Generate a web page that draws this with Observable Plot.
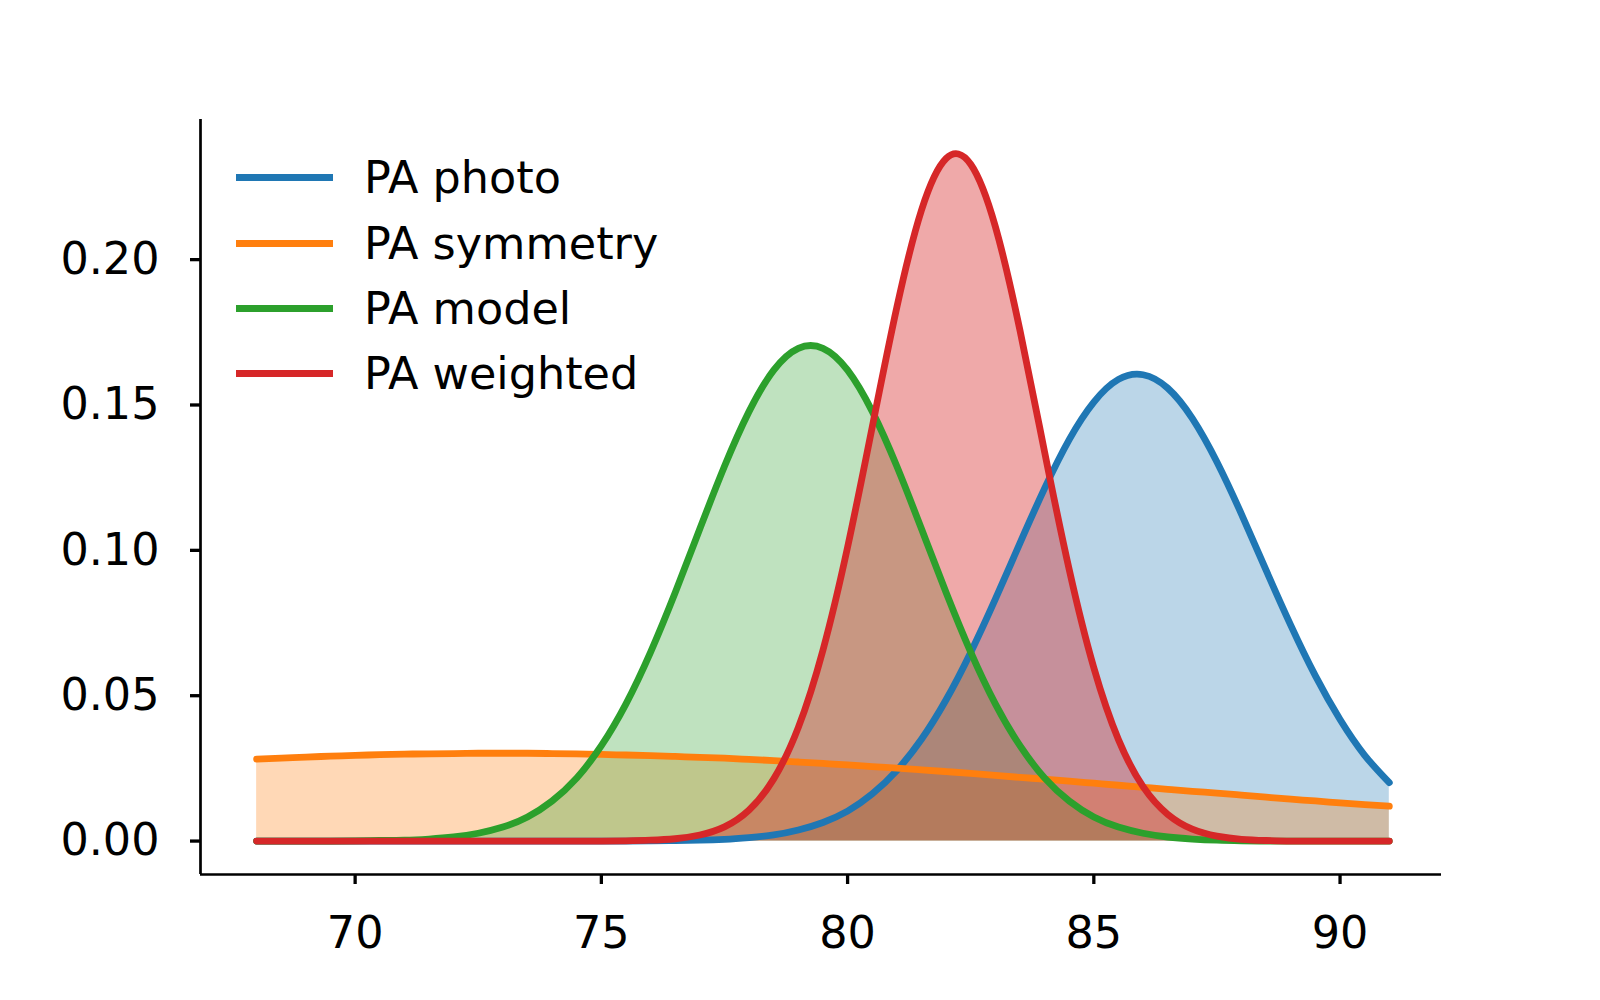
<!DOCTYPE html>
<html>
<head>
<meta charset="utf-8">
<script src="https://cdn.jsdelivr.net/npm/d3@7"></script>
<script src="https://cdn.jsdelivr.net/npm/@observablehq/plot@0.6"></script>
<style>
  html, body { margin: 0; padding: 0; background: white; }
  #wrap { position: relative; width: 1600px; height: 1000px; font-family: "DejaVu Sans", sans-serif; }
  #legend { position: absolute; left: 236px; top: 145px; }
  .row { display: flex; align-items: center; height: 65.4px; }
  .swatch { width: 97px; height: 7px; margin-right: 31px; }
  .lab { font-size: 44.5px; color: black; white-space: nowrap; }
</style>
</head>
<body>
<div id="wrap"><div id="legend"></div></div>
<script>
const seriesNames = ["PA photo", "PA symmetry", "PA model", "PA weighted"];
const seriesColors = ["#1f77b4", "#ff7f0e", "#2ca02c", "#d62728"];
const seriesFillOpacity = [0.3, 0.3, 0.3, 0.4];

const xs = [68,68.5,69,69.5,70,70.5,71,71.5,72,72.5,73,73.5,74,74.5,75,75.5,76,76.5,77,77.5,78,78.5,79,79.5,80,80.5,81,81.5,82,82.5,83,83.5,84,84.5,85,85.5,86,86.5,87,87.5,88,88.5,89,89.5,90,90.5,91];

const paPhoto = [0,0,0,0,0,0,0,0,0,0,0,0,0,0,0,0,
  0.0001,0.0002,0.0003,0.0006,0.0012,0.0021,0.0038,0.0064,0.0103,0.0162,0.0243,0.0350,0.0486,0.0649,0.0832,0.1025,0.1213,0.1381,0.1510,0.1588,0.1604,0.1558,0.1454,0.1304,0.1124,0.0931,0.0742,0.0568,0.0418,0.0295,0.0201];

const paSymmetry = [0.0282,0.0285,0.0289,0.0292,0.0295,0.0297,0.0299,0.0300,0.0301,0.0302,0.0302,0.0302,0.0301,0.0300,0.0298,0.0296,0.0294,0.0291,0.0288,0.0285,0.0281,0.0277,0.0272,0.0267,0.0262,0.0256,0.0251,0.0245,0.0239,0.0233,0.0226,0.0219,0.0213,0.0206,0.0199,0.0192,0.0185,0.0178,0.0171,0.0165,0.0158,0.0151,0.0144,0.0138,0.0131,0.0125,0.0120];

const paModel = [0,0,0,0,0.0001,0.0002,0.0003,0.0007,0.0014,0.0027,0.0048,0.0083,0.0138,0.0217,0.0328,0.0472,0.0650,0.0855,0.1074,0.1289,0.1478,0.1620,0.1695,0.1695,0.1620,0.1478,0.1289,0.1074,0.0855,0.0650,0.0472,0.0328,0.0217,0.0138,0.0083,0.0048,0.0027,0.0014,0.0007,0.0003,0.0001,0,0,0,0,0,0];

const paWeighted = [0,0,0,0,0,0,0,0,0,0,0,0,0,0,0,
  0.0001,0.0003,0.0008,0.0021,0.0049,0.0107,0.0214,0.0391,0.0657,0.1011,0.1424,0.1836,0.2170,0.2348,0.2328,0.2114,0.1757,0.1339,0.0934,0.0596,0.0349,0.0187,0.0092,0.0041,0.0017,0.0006,0.0002,
  0,0,0,0,0];

const xTicks = [70, 75, 80, 85, 90];
const yTicks = [0, 0.05, 0.10, 0.15, 0.20];
const xDomain = [66.86, 92.06];
const yDomain = [-0.0115, 0.2482];

const allSeries = [paPhoto, paSymmetry, paModel, paWeighted];
const tables = allSeries.map(vals => xs.map((x, i) => ({x, y: vals[i]})));

const fills = tables.map((t, k) => Plot.areaY(t, {x: "x", y: "y", fill: seriesColors[k], fillOpacity: seriesFillOpacity[k], curve: "natural"}));
const lines = tables.map((t, k) => Plot.lineY(t, {x: "x", y: "y", stroke: seriesColors[k], strokeWidth: 6.8, curve: "natural"}));

const chart = Plot.plot({
  width: 1600,
  height: 1000,
  marginLeft: 200,
  marginRight: 159,
  marginTop: 119,
  marginBottom: 126,
  style: {fontFamily: "DejaVu Sans", fontSize: "44.5px", background: "white", color: "black"},
  x: {domain: xDomain, label: null},
  y: {domain: yDomain, label: null},
  marks: [
    ...fills,
    ...lines,
    Plot.ruleX([xDomain[0]], {stroke: "black", strokeWidth: 2.7}),
    Plot.ruleY([yDomain[0]], {stroke: "black", strokeWidth: 2.7}),
    Plot.axisX({ticks: xTicks, tickSize: 10, tickPadding: 32, strokeWidth: 3.3, label: null, fontSize: 44.5, fill: "black"}),
    Plot.axisY({ticks: yTicks, tickSize: 10, tickPadding: 31, strokeWidth: 3.3, tickFormat: d3.format(".2f"), label: null, fontSize: 44.5, fill: "black"})
  ]
});

const wrap = document.getElementById("wrap");
chart.style.position = "absolute";
chart.style.left = "0px";
chart.style.top = "0px";
wrap.insertBefore(chart, wrap.firstChild);

const legend = document.getElementById("legend");
seriesNames.forEach((name, k) => {
  const row = document.createElement("div");
  row.className = "row";
  const sw = document.createElement("div");
  sw.className = "swatch";
  sw.style.background = seriesColors[k];
  const lab = document.createElement("div");
  lab.className = "lab";
  lab.textContent = name;
  row.appendChild(sw);
  row.appendChild(lab);
  legend.appendChild(row);
});
</script>
</body>
</html>
